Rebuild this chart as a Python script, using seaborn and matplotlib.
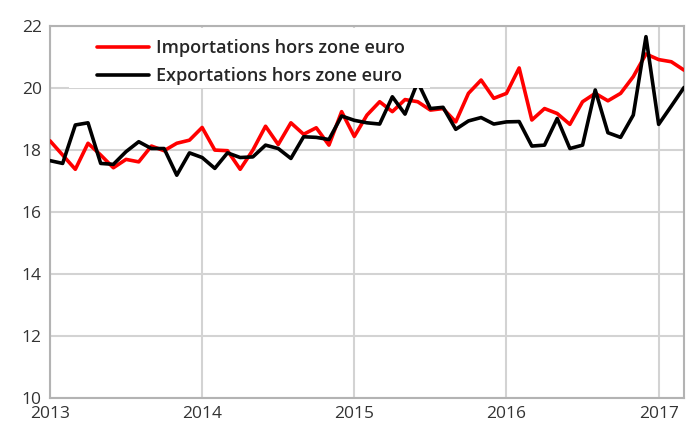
import numpy as np
import pandas as pd
import seaborn as sns
from matplotlib import pyplot as plt
from matplotlib.patches import Rectangle

# monthly values, Jan 2013 - Mar 2017
imports = [18.30, 17.84, 17.38, 18.22, 17.84, 17.43, 17.70, 17.62, 18.13, 17.98, 18.22, 18.32,
           18.73, 18.00, 17.98, 17.38, 18.00, 18.77, 18.18, 18.88, 18.51, 18.72, 18.16, 19.24,
           18.44, 19.13, 19.56, 19.24, 19.63, 19.56, 19.29, 19.34, 18.91, 19.83, 20.26, 19.67,
           19.83, 20.65, 18.97, 19.34, 19.18, 18.83, 19.56, 19.83, 19.59, 19.83, 20.37, 21.10,
           20.92, 20.85, 20.58]
exports = [17.66, 17.57, 18.81, 18.88, 17.57, 17.54, 17.95, 18.27, 18.05, 18.05, 17.19, 17.91,
           17.76, 17.41, 17.91, 17.76, 17.78, 18.16, 18.05, 17.73, 18.43, 18.41, 18.34, 19.10,
           18.96, 18.88, 18.84, 19.72, 19.16, 20.20, 19.34, 19.38, 18.67, 18.94, 19.05, 18.84,
           18.91, 18.92, 18.13, 18.16, 19.02, 18.05, 18.16, 19.94, 18.56, 18.41, 19.13, 21.66,
           18.83, 19.42, 20.02]
years = [2013, 2014, 2015, 2016, 2017]
labels = ['Importations hors zone euro', 'Exportations hors zone euro']

t = 2013 + np.arange(len(imports)) / 12
df = pd.DataFrame({'t': np.concatenate([t, t]),
                   'val': imports + exports,
                   'serie': [labels[0]] * len(imports) + [labels[1]] * len(exports)})

sns.set_style('white')
plt.rcParams['font.family'] = ['Open Sans', 'DejaVu Sans']

fig = plt.figure(figsize=(6.94, 4.28), dpi=100)
ax = fig.add_axes([0.072, 0.070, 0.9136, 0.869])

sns.lineplot(data=df, x='t', y='val', hue='serie', palette=['#ff0000', '#000000'],
             linewidth=2.6, ax=ax, legend=True, zorder=3)

ax.set_xlim(2013, 2013 + 50 / 12)
ax.set_ylim(10, 22)
ax.set_xticks(years)
ax.set_xticklabels([str(y) for y in years])
ax.set_yticks(range(10, 23, 2))
ax.grid(True, color='#d3d3d3', linewidth=1.5, zorder=0)
ax.set_axisbelow(True)
for s in ax.spines.values():
    s.set_color('#b3b3b3')
    s.set_linewidth(1.5)
ax.tick_params(length=0, labelsize=12.5, colors='#333333', pad=6)
ax.set_xlabel('')
ax.set_ylabel('')

# white box behind the legend, hides lines under it
ax.add_patch(Rectangle((0.03, 0.834), 0.57, 0.162, transform=ax.transAxes,
                       facecolor='white', edgecolor='none', zorder=4))

leg = ax.legend(loc='upper left', bbox_to_anchor=(0.074, 0.965), frameon=False,
                fontsize=13, handlelength=2.9, handletextpad=0.35, labelspacing=0.55,
                borderpad=0, borderaxespad=0)
leg.set_zorder(5)
for txt in leg.get_texts():
    txt.set_fontweight('semibold')

fig.savefig('out.png', dpi=100)
